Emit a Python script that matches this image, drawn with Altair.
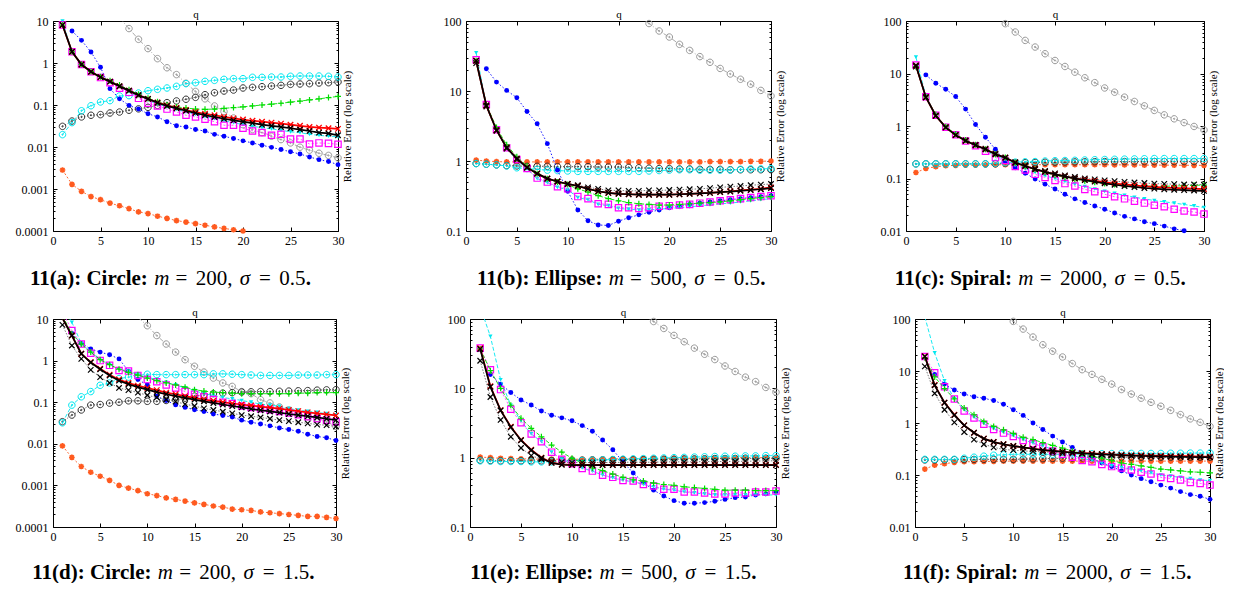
import math
import altair as alt
import pandas as pd

q = list(range(1, 31))
N = None

# ---------------- 11(a) Circle m=200 sigma=0.5 ----------------
a_red = [8.0, 1.85, 0.92, 0.62, 0.46, 0.36, 0.28, 0.22, 0.17, 0.14, 0.115, 0.098, 0.086, 0.076, 0.068, 0.062, 0.057, 0.052, 0.048, 0.045, 0.042, 0.040, 0.038, 0.036, 0.034, 0.032, 0.030, 0.029, 0.028, 0.027]
a_black = [8.0, 1.85, 0.92, 0.62, 0.46, 0.36, 0.28, 0.22, 0.17, 0.14, 0.113, 0.095, 0.083, 0.073, 0.064, 0.057, 0.052, 0.047, 0.043, 0.040, 0.037, 0.034, 0.032, 0.030, 0.028, 0.026, 0.024, 0.022, 0.021, 0.019]
a_black2 = [N] * 30
a_green = [8.0, 1.85, 0.93, 0.63, 0.47, 0.38, 0.30, 0.23, 0.18, 0.145, 0.12, 0.10, 0.09, 0.085, 0.080, 0.079, 0.080, 0.083, 0.087, 0.090, 0.095, 0.10, 0.105, 0.11, 0.117, 0.124, 0.132, 0.14, 0.15, 0.16]
a_magenta = [8.0, 1.85, 0.92, 0.62, 0.45, 0.34, 0.25, 0.20, 0.144, 0.11, 0.095, 0.080, 0.068, 0.057, 0.052, 0.046, 0.040, 0.033, 0.033, 0.028, 0.024, 0.022, 0.019, 0.020, 0.0155, 0.0155, 0.0118, 0.0125, 0.0122, 0.0116]
a_cyantri = [10.0, 1.85, 0.92, 0.62, 0.45, 0.35, 0.27, 0.21, 0.165, 0.13, 0.105, 0.09, 0.078, 0.068, 0.060, 0.053, 0.047, 0.042, 0.038, 0.034, 0.031, 0.029, 0.027, 0.025, 0.023, 0.022, 0.020, 0.019, 0.018, 0.0175]
a_blue = [N, 5.8, 3.46, 1.83, 0.79, 0.245, 0.14, 0.098, 0.08, 0.062, 0.052, 0.040, 0.032, 0.030, 0.026, 0.024, 0.020, 0.018, 0.016, 0.014, 0.0125, 0.011, 0.0098, 0.0087, 0.0077, 0.0068, 0.0058, 0.0050, 0.0045, 0.0038]
a_gray = [N] * 6 + [12.0, 6.6, 3.66, 2.2, 1.27, 0.77, 0.53, 0.33, 0.21, 0.14, 0.095, 0.070, 0.049, 0.034, 0.026, 0.022, 0.018, 0.015, 0.0125, 0.0099, 0.0084, 0.0071, 0.0063, 0.0055]
a_cyancirc = [0.0197, 0.038, 0.073, 0.096, 0.118, 0.127, 0.164, 0.167, 0.193, 0.219, 0.236, 0.254, 0.278, 0.322, 0.34, 0.366, 0.386, 0.408, 0.424, 0.424, 0.456, 0.456, 0.464, 0.464, 0.482, 0.49, 0.49, 0.49, 0.482, 0.464]
a_blackcirc = [0.031, 0.0415, 0.052, 0.057, 0.059, 0.0645, 0.068, 0.075, 0.081, 0.088, 0.098, 0.114, 0.125, 0.137, 0.152, 0.176, 0.196, 0.215, 0.227, 0.254, 0.263, 0.273, 0.283, 0.294, 0.31, 0.316, 0.322, 0.334, 0.34, 0.354]
a_orange = [0.00283, 0.00129, 0.00088, 0.00066, 0.000557, 0.00046, 0.0004, 0.00034, 0.000285, 0.00026, 0.000225, 0.0002, 0.000177, 0.000163, 0.00015, 0.000137, 0.000125, 0.000115, 0.000107, 0.0001] + [N] * 10

# ---------------- 11(b) Ellipse m=500 sigma=0.5 ----------------
b_red = [27, 6.2, 2.75, 1.55, 1.08, 0.81, 0.66, 0.56, 0.51, 0.47, 0.44, 0.40, 0.37, 0.35, 0.34, 0.335, 0.33, 0.33, 0.33, 0.33, 0.335, 0.34, 0.345, 0.35, 0.36, 0.37, 0.38, 0.39, 0.40, 0.42]
b_black = [27, 6.2, 2.75, 1.55, 1.08, 0.81, 0.66, 0.56, 0.51, 0.47, 0.44, 0.40, 0.37, 0.35, 0.34, 0.335, 0.33, 0.33, 0.33, 0.33, 0.335, 0.34, 0.345, 0.35, 0.36, 0.365, 0.375, 0.385, 0.395, 0.41]
b_black2 = [25, 6.0, 2.7, 1.5, 1.05, 0.80, 0.66, 0.56, 0.51, 0.47, 0.45, 0.42, 0.40, 0.38, 0.38, 0.375, 0.375, 0.38, 0.38, 0.385, 0.39, 0.395, 0.40, 0.41, 0.42, 0.43, 0.44, 0.45, 0.46, 0.47]
b_green = [27, 6.4, 3.0, 1.7, 1.15, 0.85, 0.66, 0.56, 0.50, 0.46, 0.40, 0.36, 0.32, 0.29, 0.27, 0.255, 0.245, 0.24, 0.235, 0.235, 0.24, 0.245, 0.25, 0.255, 0.26, 0.27, 0.28, 0.29, 0.30, 0.31]
b_magenta = [28, 6.4, 2.8, 1.55, 1.05, 0.78, 0.57, 0.50, 0.43, 0.40, 0.31, 0.29, 0.245, 0.24, 0.215, 0.215, 0.21, 0.215, 0.225, 0.23, 0.235, 0.24, 0.25, 0.26, 0.27, 0.28, 0.29, 0.30, 0.31, 0.32]
b_cyantri = [35, 6.3, 2.75, 1.5, 1.03, 0.77, 0.56, 0.49, 0.42, 0.39, 0.30, 0.28, 0.24, 0.23, 0.21, 0.205, 0.20, 0.20, 0.205, 0.21, 0.215, 0.22, 0.23, 0.235, 0.245, 0.25, 0.26, 0.27, 0.28, 0.29]
b_blue = [N, 20.8, 13.4, 10.2, 8.0, 5.1, 3.4, 1.77, 0.74, 0.37, 0.20, 0.14, 0.122, 0.12, 0.138, 0.155, 0.17, 0.185, 0.20, 0.215, 0.225, 0.24, 0.25, 0.26, 0.27, 0.28, 0.29, 0.30, 0.31, 0.32]
b_gray = [N] * 16 + [115, 92, 72, 59, 46.4, 38, 31, 25.7, 21, 17.5, 14.7, 12.5, 10.2, 8.5]
b_cyancirc = [0.92, 0.90, 0.88, 0.85, 0.80, 0.78, 0.76, 0.74, 0.73, 0.72, 0.71, 0.71, 0.71, 0.71, 0.71, 0.71, 0.71, 0.72, 0.73, 0.74, 0.75, 0.75, 0.74, 0.74, 0.74, 0.74, 0.76, 0.77, 0.77, 0.78]
b_blackcirc = [0.92, 0.90, 0.88, 0.86, 0.85, 0.84, 0.84, 0.84, 0.83, 0.83, 0.83, 0.83, 0.82, 0.82, 0.82, 0.81, 0.80, 0.79, 0.78, 0.78, 0.77, 0.77, 0.76, 0.76, 0.76, 0.75, 0.75, 0.75, 0.75, 0.75]
b_orange = [1.03, 1.0, 0.98] + [0.97] * 20 + [0.98, 0.98, 0.98, 0.98, 0.99, 0.99, 1.0]

# ---------------- 11(c) Spiral m=2000 sigma=0.5 ----------------
c_red = [14.2, 3.53, 1.57, 0.94, 0.67, 0.525, 0.43, 0.36, 0.29, 0.25, 0.20, 0.173, 0.15, 0.134, 0.12, 0.11, 0.10, 0.095, 0.09, 0.085, 0.08, 0.077, 0.074, 0.071, 0.069, 0.067, 0.066, 0.065, 0.064, 0.063]
c_black = [14.2, 3.53, 1.57, 0.94, 0.67, 0.525, 0.43, 0.36, 0.29, 0.25, 0.20, 0.173, 0.15, 0.134, 0.12, 0.11, 0.10, 0.093, 0.087, 0.081, 0.076, 0.072, 0.069, 0.066, 0.064, 0.062, 0.061, 0.060, 0.059, 0.058]
c_black2 = [13.5, 3.5, 1.57, 0.95, 0.68, 0.53, 0.44, 0.37, 0.30, 0.25, 0.205, 0.178, 0.155, 0.14, 0.125, 0.115, 0.107, 0.10, 0.096, 0.092, 0.089, 0.086, 0.084, 0.082, 0.080, 0.079, 0.078, 0.077, 0.077, 0.076]
c_green = [13.5, 3.6, 1.65, 0.97, 0.70, 0.54, 0.44, 0.36, 0.29, 0.25, 0.20, 0.17, 0.148, 0.13, 0.115, 0.105, 0.097, 0.09, 0.085, 0.08, 0.077, 0.075, 0.073, 0.072, 0.071, 0.071, 0.072, 0.073, 0.074, 0.075]
c_magenta = [14.5, 3.6, 1.6, 0.95, 0.68, 0.52, 0.42, 0.33, 0.25, 0.22, 0.17, 0.145, 0.12, 0.105, 0.092, 0.08, 0.072, 0.062, 0.056, 0.05, 0.045, 0.041, 0.037, 0.034, 0.031, 0.029, 0.026, 0.024, 0.023, 0.021]
c_cyantri = [20.5, 3.7, 1.62, 0.96, 0.69, 0.53, 0.43, 0.34, 0.27, 0.23, 0.18, 0.155, 0.13, 0.113, 0.10, 0.088, 0.078, 0.07, 0.063, 0.057, 0.052, 0.048, 0.044, 0.041, 0.038, 0.036, 0.034, 0.032, 0.030, 0.028]
c_blue = [N, 9.4, 6.5, 5.0, 3.64, 2.1, 1.07, 0.61, 0.36, 0.21, 0.16, 0.126, 0.098, 0.078, 0.063, 0.05, 0.041, 0.035, 0.03, 0.026, 0.022, 0.019, 0.017, 0.015, 0.0138, 0.0124, 0.011, 0.0101, 0.0089, 0.008]
c_gray = [N] * 8 + [130, 89, 61.7, 42.7, 31.9, 23.8, 17.7, 13.6, 10.6, 8.3, 6.7, 5.3, 4.4, 3.54, 2.93, 2.42, 1.98, 1.63, 1.37, 1.16, 0.98, 0.84]
c_cyancirc = [0.19] * 8 + [0.195, 0.20, 0.205, 0.208, 0.21, 0.215, 0.218, 0.22, 0.222, 0.225, 0.228, 0.23, 0.232, 0.234, 0.236, 0.238] + [0.24] * 6
c_blackcirc = [0.19] * 9 + [0.195, 0.198, 0.20, 0.202, 0.204, 0.205, 0.206, 0.207, 0.208, 0.209, 0.21] + [0.21] * 10
c_orange = [0.13, 0.155, 0.168, 0.175, 0.178, 0.18, 0.18, 0.182, 0.183, 0.183] + [0.183] * 10 + [0.182, 0.182, 0.181, 0.18, 0.18, 0.18, 0.179, 0.179, 0.178, 0.178]

# ---------------- 11(d) Circle m=200 sigma=1.5 ----------------
d_red = [10.5, 4.0, 1.46, 0.92, 0.64, 0.46, 0.35, 0.29, 0.25, 0.22, 0.195, 0.17, 0.155, 0.14, 0.127, 0.116, 0.108, 0.10, 0.093, 0.088, 0.083, 0.078, 0.074, 0.07, 0.065, 0.061, 0.057, 0.054, 0.051, 0.048]
d_black = [10.5, 4.0, 1.46, 0.90, 0.62, 0.44, 0.33, 0.27, 0.23, 0.20, 0.175, 0.155, 0.14, 0.127, 0.115, 0.105, 0.096, 0.088, 0.081, 0.075, 0.069, 0.064, 0.06, 0.056, 0.052, 0.049, 0.046, 0.043, 0.04, 0.037]
d_black2 = [7.2, 2.3, 1.1, 0.6, 0.4, 0.29, 0.22, 0.195, 0.17, 0.147, 0.13, 0.116, 0.103, 0.09, 0.081, 0.071, 0.065, 0.059, 0.054, 0.049, 0.046, 0.043, 0.04, 0.037, 0.035, 0.033, 0.031, 0.029, 0.028, 0.026]
d_green = [12, 4.4, 2.5, 1.6, 1.05, 0.8, 0.62, 0.52, 0.45, 0.38, 0.33, 0.29, 0.26, 0.23, 0.20, 0.185, 0.175, 0.17, 0.165, 0.16, 0.16, 0.16, 0.16, 0.16, 0.16, 0.165, 0.165, 0.17, 0.17, 0.17]
d_magenta = [15, 5.3, 2.5, 1.5, 1.0, 0.77, 0.58, 0.56, 0.44, 0.35, 0.31, 0.26, 0.22, 0.18, 0.155, 0.135, 0.116, 0.10, 0.093, 0.081, 0.075, 0.07, 0.065, 0.06, 0.055, 0.05, 0.045, 0.04, 0.037, 0.034]
d_cyantri = [20, 8.3, 2.6, 1.6, 1.1, 0.8, 0.62, 0.56, 0.46, 0.40, 0.35, 0.30, 0.26, 0.22, 0.19, 0.16, 0.145, 0.13, 0.12, 0.11, 0.10, 0.09, 0.085, 0.08, 0.07, 0.065, 0.06, 0.057, 0.053, 0.05]
d_blue = [N, 4.5, 2.6, 1.9, 1.6, 1.38, 1.1, 0.56, 0.35, 0.26, 0.14, 0.11, 0.086, 0.075, 0.066, 0.06, 0.052, 0.048, 0.044, 0.037, 0.033, 0.03, 0.027, 0.024, 0.022, 0.02, 0.017, 0.015, 0.014, 0.012]
d_gray = [N] * 8 + [11, 6.9, 4.0, 2.5, 1.6, 1.05, 0.73, 0.53, 0.38, 0.29, 0.24, 0.18, 0.16, 0.115, 0.096, 0.077, 0.065, 0.054, 0.045, 0.041, 0.034, 0.026]
d_cyancirc = [0.032, 0.085, 0.135, 0.18, 0.255, 0.29, 0.37, 0.4, 0.44, 0.47, 0.46, 0.46, 0.46, 0.46, 0.46, 0.46, 0.48, 0.48, 0.47, 0.46, 0.45, 0.44, 0.44, 0.44, 0.44, 0.45, 0.45, 0.45, 0.46, 0.46]
d_blackcirc = [0.034, 0.049, 0.065, 0.085, 0.088, 0.095, 0.1, 0.108, 0.108, 0.105, 0.105, 0.11, 0.115, 0.125, 0.14, 0.15, 0.16, 0.165, 0.17, 0.175, 0.178, 0.18, 0.18, 0.183, 0.185, 0.188, 0.19, 0.195, 0.198, 0.2]
d_orange = [0.0089, 0.0047, 0.00285, 0.00207, 0.00166, 0.00132, 0.001, 0.00086, 0.00075, 0.00063, 0.00057, 0.0005, 0.00046, 0.00042, 0.00038, 0.00035, 0.00032, 0.0003, 0.00027, 0.00026, 0.00025, 0.00023, 0.00022, 0.00021, 0.0002, 0.00019, 0.00018, 0.00018, 0.00017, 0.00016]

# ---------------- 11(e) Ellipse m=500 sigma=1.5 ----------------
e_red = [38, 10.7, 4.85, 2.8, 1.8, 1.3, 1.0, 0.85, 0.80, 0.79] + [0.79] * 20
e_black = [37, 10.5, 4.8, 2.75, 1.78, 1.28, 0.99, 0.84, 0.79, 0.78] + [0.78] * 20
e_black2 = [25, 7.5, 3.5, 2.0, 1.38, 1.07, 0.95, 0.88, 0.86, 0.85, 0.85, 0.85, 0.85, 0.85, 0.86, 0.86, 0.86, 0.86, 0.87, 0.87, 0.87, 0.87, 0.88, 0.88, 0.88, 0.88, 0.89, 0.89, 0.9, 0.9]
e_green = [37, 18, 10, 5.7, 3.7, 2.65, 2.0, 1.52, 1.2, 0.98, 0.84, 0.71, 0.65, 0.58, 0.52, 0.48, 0.46, 0.43, 0.41, 0.40, 0.38, 0.37, 0.36, 0.35, 0.34, 0.34, 0.34, 0.335, 0.335, 0.335]
e_magenta = [38, 18.5, 9.6, 5.0, 3.2, 2.2, 1.7, 1.2, 0.95, 0.82, 0.70, 0.64, 0.56, 0.52, 0.47, 0.46, 0.41, 0.39, 0.35, 0.35, 0.32, 0.32, 0.31, 0.30, 0.30, 0.31, 0.31, 0.32, 0.32, 0.33]
e_cyantri = [150, 56, 13.3, 5.7, 3.4, 2.2, 1.7, 1.2, 0.95, 0.83, 0.71, 0.64, 0.56, 0.51, 0.47, 0.45, 0.41, 0.38, 0.35, 0.34, 0.32, 0.31, 0.30, 0.29, 0.29, 0.29, 0.29, 0.29, 0.29, 0.29]
e_blue = [N, 15.8, 11.5, 8.7, 6.8, 5.75, 4.7, 4.1, 3.75, 3.4, 2.9, 2.4, 1.8, 1.3, 0.87, 0.6, 0.44, 0.34, 0.28, 0.24, 0.22, 0.22, 0.225, 0.235, 0.25, 0.265, 0.27, 0.29, 0.30, 0.32]
e_gray = [N] * 16 + [115, 92, 73, 58, 47, 38, 31, 26, 21, 17.5, 14.5, 12.5, 10.3, 8.8]
e_cyancirc = [0.9, 0.89, 0.88, 0.88, 0.88, 0.87, 0.87, 0.87, 0.88, 0.9, 0.91, 0.92, 0.93, 0.94, 0.95, 0.96, 0.97, 0.98, 0.99, 1.0, 1.01, 1.02, 1.03, 1.04, 1.05, 1.05, 1.06, 1.06, 1.07, 1.07]
e_blackcirc = [0.92, 0.91, 0.9, 0.9, 0.9, 0.9, 0.9, 0.91, 0.91, 0.92, 0.92, 0.93, 0.93, 0.93, 0.94, 0.94, 0.94, 0.95, 0.95, 0.95, 0.96, 0.96, 0.96, 0.97, 0.97, 0.97, 0.98, 0.98, 0.98, 0.98]
e_orange = [1.02, 1.0, 0.98, 0.97, 0.96, 0.96, 0.95, 0.95, 0.95, 0.95, 0.95, 0.95, 0.95, 0.96, 0.96, 0.96, 0.97, 0.97, 0.97, 0.98, 0.98, 0.98, 0.99, 0.99, 0.99, 1.0, 1.0, 1.0, 1.0, 1.0]

# ---------------- 11(f) Spiral m=2000 sigma=1.5 ----------------
f_red = [19.2, 5.37, 2.47, 1.44, 0.9, 0.65, 0.5, 0.43, 0.39, 0.36, 0.34, 0.32, 0.3, 0.29, 0.28, 0.27, 0.265, 0.26, 0.255, 0.25, 0.245, 0.24, 0.24, 0.235, 0.235, 0.23, 0.23, 0.23, 0.225, 0.225]
f_black = [19, 5.3, 2.45, 1.42, 0.9, 0.65, 0.5, 0.43, 0.39, 0.36, 0.34, 0.32, 0.3, 0.29, 0.28, 0.27, 0.262, 0.255, 0.25, 0.245, 0.24, 0.235, 0.232, 0.23, 0.228, 0.226, 0.224, 0.222, 0.221, 0.22]
f_black2 = [12.3, 3.7, 1.8, 1.03, 0.67, 0.48, 0.39, 0.34, 0.31, 0.3, 0.29, 0.285, 0.28, 0.27, 0.265, 0.26, 0.255, 0.25, 0.245, 0.24, 0.238, 0.235, 0.232, 0.23, 0.228, 0.226, 0.224, 0.222, 0.221, 0.22]
f_green = [18, 7.7, 4.6, 2.9, 1.94, 1.44, 1.07, 0.86, 0.74, 0.63, 0.53, 0.48, 0.42, 0.37, 0.33, 0.29, 0.26, 0.23, 0.21, 0.19, 0.17, 0.16, 0.15, 0.14, 0.13, 0.125, 0.12, 0.115, 0.113, 0.11]
f_magenta = [19, 9.2, 5.0, 2.9, 1.7, 1.25, 0.95, 0.75, 0.64, 0.55, 0.46, 0.4, 0.35, 0.29, 0.25, 0.22, 0.19, 0.18, 0.16, 0.145, 0.136, 0.125, 0.113, 0.105, 0.09, 0.086, 0.08, 0.072, 0.069, 0.064]
f_cyantri = [110, 22.3, 6.5, 2.9, 1.8, 1.3, 0.98, 0.78, 0.66, 0.57, 0.48, 0.41, 0.36, 0.31, 0.27, 0.24, 0.21, 0.19, 0.17, 0.15, 0.14, 0.13, 0.12, 0.11, 0.1, 0.095, 0.09, 0.085, 0.08, 0.078]
f_blue = [N, 8.6, 5.6, 4.3, 3.6, 3.2, 3.0, 2.7, 2.3, 1.8, 1.4, 1.0, 0.75, 0.56, 0.43, 0.34, 0.26, 0.21, 0.17, 0.145, 0.12, 0.1, 0.085, 0.074, 0.064, 0.056, 0.048, 0.042, 0.039, 0.034]
f_gray = [N] * 8 + [130, 90, 64, 45, 32, 24, 18.6, 13.9, 10.6, 8.6, 6.9, 5.6, 4.4, 3.6, 3.0, 2.5, 2.1, 1.75, 1.45, 1.2, 1.03, 0.86]
f_cyancirc = [0.2, 0.2, 0.2, 0.2, 0.21, 0.22, 0.23, 0.24, 0.245, 0.25, 0.25, 0.25, 0.25, 0.25, 0.25, 0.252, 0.254, 0.255, 0.256, 0.258, 0.26, 0.26, 0.26, 0.26, 0.26, 0.262, 0.262, 0.264, 0.264, 0.265]
f_blackcirc = [0.195, 0.195, 0.196, 0.197, 0.198, 0.199, 0.2, 0.2, 0.2, 0.2, 0.202, 0.204, 0.206, 0.208, 0.21, 0.212, 0.214, 0.216, 0.218, 0.22] + [0.22] * 10
f_orange = [0.13, 0.155, 0.165, 0.175, 0.18, 0.18, 0.182, 0.183, 0.184] + [0.185] * 21

# ---------------- styling ----------------
FONT = "Liberation Serif, Times New Roman, serif"
X_PATH = "M-1,-1L1,1M-1,1L1,-1"
PLUS_PATH = "M-1,0L1,0M0,-1L0,1"
ODOT_PATH = "M1,0A1,1,0,1,1,-1,0A1,1,0,1,1,1,0Z M0.2,0A0.2,0.2,0,1,1,-0.2,0A0.2,0.2,0,1,1,0.2,0Z"
STAR_PATH = "M-1,0L1,0M0,-1L0,1M-0.72,-0.72L0.72,0.72M-0.72,0.72L0.72,-0.72"

ORDER = ["gray", "orange", "blackcirc", "cyancirc", "blue", "cyantri", "magenta", "green", "black2", "red", "black"]
STYLES = {
    "gray": dict(color="#a0a0a0", mcolor="#999999", dash=[5, 2, 1, 2], lw=0.9, shape=ODOT_PATH, filled=False, size=42, sw=1.0),
    "orange": dict(color="#ff5a1f", mcolor="#ff5a1f", dash=[2, 2], lw=0.9, shape=STAR_PATH, filled=False, size=32, sw=1.6),
    "blackcirc": dict(color="#333333", mcolor="#333333", dash=[1, 2], lw=0.9, shape=ODOT_PATH, filled=False, size=42, sw=1.0),
    "cyancirc": dict(color="#00e8f0", mcolor="#00e8f0", dash=[4, 2], lw=0.9, shape=ODOT_PATH, filled=False, size=42, sw=1.0),
    "blue": dict(color="#0000ff", mcolor="#0000ff", dash=[1.5, 2], lw=0.9, shape="circle", filled=True, size=24, sw=0),
    "cyantri": dict(color="#00e8f0", mcolor="#00e8f0", dash=[4, 2], lw=0.9, shape="triangle-down", filled=True, size=18, sw=0),
    "magenta": dict(color="#ff44ff", mcolor="#ff00ff", dash=[2, 2], lw=0.9, shape="square", filled=False, size=40, sw=1.2),
    "green": dict(color="#00dd00", mcolor="#00dd00", dash=[4, 2], lw=0.9, shape=PLUS_PATH, filled=False, size=36, sw=1.2),
    "black2": dict(color="#666666", mcolor="#000000", dash=[1.5, 1.5], lw=0.9, shape=X_PATH, filled=False, size=30, sw=1.2),
    "red": dict(color="#ff0000", mcolor="#ff0000", dash=None, lw=1.7, shape=X_PATH, filled=False, size=30, sw=1.3),
    "black": dict(color="#000000", mcolor="#000000", dash=None, lw=1.7, shape=X_PATH, filled=False, size=30, sw=1.3),
}

MAJOR = "abs(log(datum.value)/LN10 - round(log(datum.value)/LN10)) < 0.001"

BOLD_EM = {"Circle": 2.943, "Ellipse": 3.223, "Spiral": 2.945}


def panel(series, ydom, W, H, ext, tag, shape_name, mval, sval, cap_center, cap_y, fs=21):
    lo, hi = ydom
    for k, v in series.items():
        assert len(v) == 30, (tag, k, len(v))
    xs = alt.Scale(domain=[0, 30], nice=False, zero=False)
    ys = alt.Scale(type="log", domain=[lo, hi], nice=False)
    d0 = int(round(math.log10(lo)))
    d1 = int(round(math.log10(hi)))
    yvals = [k * 10.0 ** d for d in range(d0, d1 + 1) for k in range(1, 10) if k * 10.0 ** d <= hi * 1.0001]

    x_axis = alt.Axis(values=list(range(0, 31, 5)), format="d", title=None, ticks=False,
                      labelFont=FONT, labelFontSize=12, labelColor="black", labelPadding=4,
                      labelFlush=False, labelOverlap=False, domainColor="black", domainWidth=1,
                      grid=True, gridColor="black", gridOpacity=1, gridWidth=1,
                      gridDash=[4, H - 8, 4, 4000], minExtent=16, maxExtent=16)
    y_axis = alt.Axis(values=yvals, title=None, ticks=False, labelFont=FONT, labelFontSize=12,
                      labelColor="black", labelPadding=5, labelOverlap=False, labelFlush=False,
                      labelExpr="(" + MAJOR + ") ? format(datum.value, '~g') : ''",
                      domainColor="black", domainWidth=1, grid=True, gridColor="black",
                      gridOpacity=1, gridWidth=1,
                      gridDash={"condition": {"test": MAJOR, "value": [4, W - 8, 4, 4000]},
                                "value": [2, W - 4, 2, 4000]},
                      minExtent=ext, maxExtent=ext)
    top_axis = alt.Axis(orient="top", title="q", labels=False, ticks=False, grid=False,
                        domainColor="black", titleFont=FONT, titleFontSize=11,
                        titleFontWeight="normal", titleColor="black", titlePadding=2,
                        minExtent=0, maxExtent=0)
    right_axis = alt.Axis(orient="right", title="Relative Error (log scale)", labels=False,
                          ticks=False, grid=False, domainColor="black", titleFont=FONT,
                          titleFontSize=11, titleFontWeight="normal", titleColor="black",
                          titleAngle=270, titleBaseline="top", titlePadding=3,
                          minExtent=0, maxExtent=0)

    layers = []
    all_pts = []
    for key in ORDER:
        st = STYLES[key]
        df = pd.DataFrame({"q": q, "v": series[key]}).dropna()
        if df.empty:
            continue
        enc = dict(x=alt.X("q:Q", scale=xs, axis=None), y=alt.Y("v:Q", scale=ys, axis=None))
        lk = dict(color=st["color"], strokeWidth=st["lw"], clip=True)
        if st["dash"]:
            lk["strokeDash"] = st["dash"]
        layers.append(alt.Chart(df).mark_line(**lk).encode(**enc))
        pdf = df[(df["v"] >= lo * 0.999) & (df["v"] <= hi * 1.001)]
        all_pts.append(pdf)
        if pdf.empty:
            continue
        if st["filled"]:
            mk = dict(shape=st["shape"], size=st["size"], filled=True, color=st["mcolor"], opacity=1, strokeWidth=0)
        else:
            mk = dict(shape=st["shape"], size=st["size"], filled=False, color=st["mcolor"], opacity=1, strokeWidth=st["sw"])
        layers.append(alt.Chart(pdf).mark_point(**mk).encode(**enc))

    pts = pd.concat(all_pts)
    layers.append(alt.Chart(pts).mark_point(opacity=0).encode(
        x=alt.X("q:Q", scale=xs, axis=x_axis), y=alt.Y("v:Q", scale=ys, axis=y_axis)))
    layers.append(alt.Chart(pts).mark_point(opacity=0).encode(
        x=alt.X("q:Q", scale=xs, axis=top_axis), y=alt.Y("v:Q", scale=ys, axis=right_axis)))

    # caption: bold label + math part
    label = "11(" + tag + "): " + shape_name + ":"
    bold_em = {"a": 2.749, "b": 2.805, "c": 2.693, "d": 2.805, "e": 2.693, "f": 2.582}[tag] + BOLD_EM[shape_name]
    extra = 0.5 if len(mval) == 4 else 0.0
    total = bold_em + 0.3 + 7.5 + extra
    left = cap_center - total * fs / 2
    p = left + bold_em * fs
    m0 = p + 0.3 * fs
    pieces = [
        (label, "bold", "normal", p, "right"),
        ("m", "normal", "italic", m0, "left"),
        ("=", "normal", "normal", m0 + 1.30 * fs, "center"),
        (mval + ",", "normal", "normal", m0 + 1.98 * fs, "left"),
        ("\u03c3", "normal", "italic", m0 + (4.08 + extra) * fs, "left"),
        ("=", "normal", "normal", m0 + (5.28 + extra) * fs, "center"),
        (sval, "normal", "normal", m0 + (5.96 + extra) * fs, "left"),
        (".", "bold", "normal", m0 + (7.22 + extra) * fs, "left"),
    ]
    one = pd.DataFrame({"c": [0]})
    for txt, wt, sty, px, al in pieces:
        layers.append(alt.Chart(one).mark_text(text=txt, font=FONT, fontSize=fs, fontWeight=wt,
                                               fontStyle=sty, align=al, baseline="alphabetic",
                                               color="black").encode(
            x=alt.value(px), y=alt.value(cap_y)))

    return alt.layer(*layers).resolve_axis(x="independent", y="independent").properties(width=W, height=H)


def ser(red, black, black2, green, magenta, cyantri, blue, gray, cyancirc, blackcirc, orange):
    return dict(red=red, black=black, black2=black2, green=green, magenta=magenta, cyantri=cyantri,
                blue=blue, gray=gray, cyancirc=cyancirc, blackcirc=blackcirc, orange=orange)


pa = panel(ser(a_red, a_black, a_black2, a_green, a_magenta, a_cyantri, a_blue, a_gray, a_cyancirc, a_blackcirc, a_orange),
           (0.0001, 10), 285, 210, 42, "a", "Circle", "200", "0.5", 117, 264)
pb = panel(ser(b_red, b_black, b_black2, b_green, b_magenta, b_cyantri, b_blue, b_gray, b_cyancirc, b_blackcirc, b_orange),
           (0.1, 100), 305, 210, 94, "b", "Ellipse", "500", "0.5", 155, 264)
pc = panel(ser(c_red, c_black, c_black2, c_green, c_magenta, c_cyantri, c_blue, c_gray, c_cyancirc, c_blackcirc, c_orange),
           (0.01, 100), 298, 210, 101, "c", "Spiral", "2000", "0.5", 134, 264)
pd_ = panel(ser(d_red, d_black, d_black2, d_green, d_magenta, d_cyantri, d_blue, d_gray, d_cyancirc, d_blackcirc, d_orange),
            (0.0001, 10), 283, 208, 45, "d", "Circle", "200", "1.5", 120, 260)
pe = panel(ser(e_red, e_black, e_black2, e_green, e_magenta, e_cyantri, e_blue, e_gray, e_cyancirc, e_blackcirc, e_orange),
           (0.1, 100), 306, 208, 100, "e", "Ellipse", "500", "1.5", 143, 260)
pf = panel(ser(f_red, f_black, f_black2, f_green, f_magenta, f_cyantri, f_blue, f_gray, f_cyancirc, f_blackcirc, f_orange),
           (0.01, 100), 295, 208, 105, "f", "Spiral", "2000", "1.5", 132, 260)

row1 = alt.hconcat(pa, pb, pc, spacing=20)
row2 = alt.hconcat(pd_, pe, pf, spacing=20)
chart = alt.vconcat(row1, row2, spacing=17).properties(
    padding={"left": 0, "top": 0, "right": 0, "bottom": 0}
).configure_view(strokeWidth=0)

chart.save("out.html", embed_options={"renderer": "svg", "actions": False})
